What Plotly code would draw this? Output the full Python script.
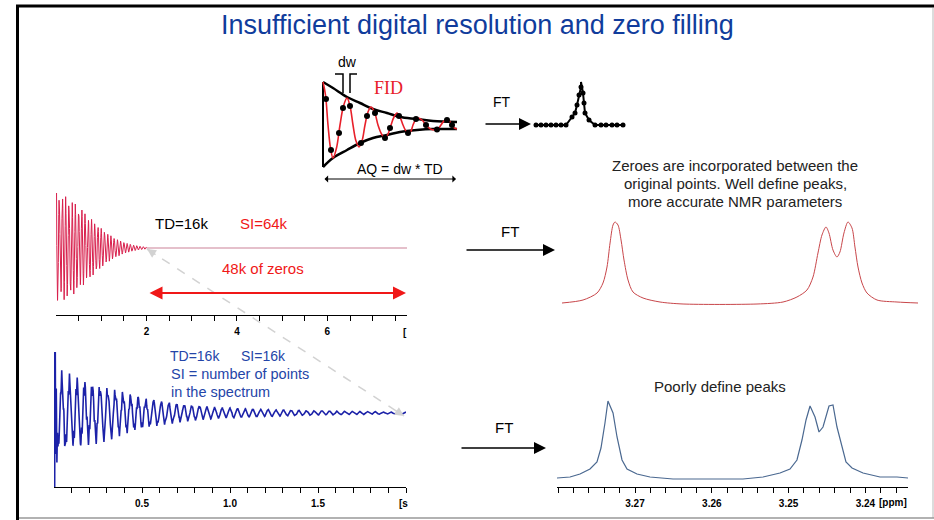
import numpy as np
import plotly.graph_objects as go

W, H = 934, 520

# ---------------- schematic FID (arbitrary time / amplitude units) ----------------
sch_env_t = [0, 10, 24, 37, 50, 64, 77, 94, 110, 134]
sch_env_hi = [43, 37, 28, 22, 16, 12, 8, 6, 4, 3]
sch_env_lo = [-42, -33, -25, -18, -13, -10, -7, -5, -4, -4]

sch_wave_t = [0, 2.5, 5, 7.5, 10, 13.5, 17, 20.5, 24, 27, 30, 33, 36, 39, 42, 45, 48, 51.5, 55,
              58.5, 62, 65, 68, 71, 74, 77, 80, 83, 86, 88, 90, 92.5, 95, 99, 103, 107.5, 112,
              115, 118, 121, 124, 126.5, 129, 131.5, 134]
sch_wave_y = [43, 30, 0, -23, -33, -23, 0, 19, 27, 19, 0, -16, -22, -16, 0, 13, 18, 13, 0,
              -9, -13, -9, 0, 8, 12, 8, 0, -6, -8, -6, 0, 5, 7, 5, 0, -4, -5,
              -4, 0, 4, 5, 4, 0, -3, -4]

# sampled points (every dw) sitting on the oscillation
sch_dot_t = [3, 8, 16, 20, 27, 38, 44, 52, 62, 67, 76, 85, 93, 103, 114, 124, 129]
sch_dot_y = [26, -25, -8, 17, 19, -18, 9, 12, -13, -3, 9, -8, 6, 0, -4.5, 5, 0]

# small transformed spectrum next to the first FT arrow
ft_dot_x = [213, 218, 223, 228, 233, 238, 243, 249, 252, 254, 256, 258, 260, 261, 262, 266,
            272, 278, 283, 289, 294, 300]
ft_dot_y = [0, 0, 0, 0, 0, 0, 0, 8, 12, 20, 30, 38, 32, 22, 12, 5, 0, 0, 0, 0, 0, 0]
ft_tip = (258, 43)

# ---------------- time-domain signals (TD = 16k points over 2 s) ----------------
TD = 16384
t = np.linspace(0.0, 2.0, TD)

# components: frequency [Hz], amplitude, exponential T2 [s], gaussian width [s]
blue_freq = [23.0, 23.0, 90.0, 160.0, 150.0]
blue_amp = [20.0, 14.0, 7.0, 4.0, 250.0]
blue_t2 = [0.66, np.inf, np.inf, 0.5, 0.006]
blue_tg = [np.inf, 0.45, 0.5, np.inf, np.inf]

red_freq = [14.0, 47.0, 300.0]
red_amp = [48.0, 6.0, 110.0]
red_t2 = [np.inf, np.inf, 0.002]
red_tg = [1.02, 0.8, np.inf]


def fid(freq, amp, t2, tg):
    s = np.zeros_like(t)
    for f, a, e, g in zip(freq, amp, t2, tg):
        s += a * np.cos(2 * np.pi * f * t) * np.exp(-t / e) * np.exp(-(t / g) ** 2)
    return s


blue_fid = fid(blue_freq, blue_amp, blue_t2, blue_tg)
red_fid = fid(red_freq, red_amp, red_t2, red_tg)

# zero filling: SI = 64k, the remaining 48k points are zeros
zf_t = [2.0, 7.76]
zf_y = [0.0, 0.0]

# ---------------- spectra (ppm, intensity) ----------------
red_ppm = [3.28011, 3.27749, 3.27574, 3.2750, 3.2745, 3.27412, 3.27375, 3.2735, 3.27313, 3.27275,
           3.27238, 3.27188, 3.27126, 3.27001, 3.26789, 3.26502, 3.2558, 3.25256, 3.25082, 3.24957,
           3.24882, 3.2482, 3.2477, 3.2472, 3.24683, 3.24633, 3.24583, 3.24546, 3.24496, 3.24446,
           3.24396, 3.24359, 3.24321, 3.24271, 3.24209, 3.24084, 3.23835, 3.23573]
red_int = [1, 4, 11, 21, 37, 61, 79, 82, 79, 64,
           44, 24, 12, 6, 2, 0, 0, 2, 7, 14,
           27, 51, 69, 77, 71, 54, 47, 52, 71, 82,
           76, 57, 37, 21, 11, 4, 2, 1]

blue_ppm = [3.28016, 3.27846, 3.27716, 3.27586, 3.27495, 3.27443, 3.27391, 3.27352, 3.27286, 3.27234,
            3.27169, 3.27104, 3.26974, 3.26805, 3.26505, 3.25594, 3.25333, 3.25112, 3.24982, 3.24891,
            3.24826, 3.24773, 3.24721, 3.24656, 3.24604, 3.24552, 3.24474, 3.24422, 3.24370, 3.24305,
            3.24253, 3.24174, 3.24031, 3.23810, 3.23589, 3.23445]
blue_int = [1, 2, 5, 10, 17, 31, 56, 78, 66, 42,
            19, 10, 5, 2, 0, 0, 2, 6, 10, 19,
            39, 59, 73, 62, 47, 52, 73, 74, 52, 32,
            17, 11, 6, 2, 2, 1]

red_fid_ticks = [0.5 * k for k in range(1, 16)]
red_fid_labels = ["2", "4", "6"]
blue_fid_ticks = [round(0.1 * k, 1) for k in range(1, 21)]
blue_fid_labels = ["0.5", "1.0", "1.5"]
spec_ticks = [round(3.280 - 0.002 * k, 3) for k in range(0, 23)]
spec_labels = ["3.27", "3.26", "3.25", "3.24"]

# ---------------- helpers ----------------
FONT = "Liberation Sans, Arial, sans-serif"


def PX(x):
    return x / W


def PY(y):
    return 1 - y / H


def dom_x(a, b):
    return [PX(a), PX(b)]


def dom_y(top, bottom):
    return [PY(bottom), PY(top)]


def fmt(v, labels):
    for lab in labels:
        if abs(float(lab) - v) < 1e-9:
            return "<b>%s</b>" % lab
    return ""


fig = go.Figure()

# schematic
fig.add_trace(go.Scatter(x=sch_env_t, y=sch_env_hi, mode="lines", line=dict(color="black", width=2.5, shape="spline"),
                         xaxis="x", yaxis="y"))
fig.add_trace(go.Scatter(x=sch_env_t, y=sch_env_lo, mode="lines", line=dict(color="black", width=2.5, shape="spline"),
                         xaxis="x", yaxis="y"))
fig.add_trace(go.Scatter(x=[sch_env_t[0], sch_env_t[0]], y=[sch_env_lo[0], sch_env_hi[0]], mode="lines",
                         line=dict(color="black", width=2), xaxis="x", yaxis="y"))
fig.add_trace(go.Scatter(x=sch_wave_t, y=sch_wave_y, mode="lines",
                         line=dict(color="#e8202a", width=1.6, shape="spline", smoothing=1.0), xaxis="x", yaxis="y"))
fig.add_trace(go.Scatter(x=sch_dot_t, y=sch_dot_y, mode="markers", marker=dict(color="black", size=6),
                         xaxis="x", yaxis="y"))
# dw bracket
dw_l, dw_r = sch_dot_t[3], sch_dot_t[4]
fig.add_trace(go.Scatter(x=[dw_l - 8, dw_l, dw_l, None, dw_r, dw_r, dw_r + 7],
                         y=[51, 51, 32, None, 32, 51, 51], mode="lines",
                         line=dict(color="black", width=1.5), xaxis="x", yaxis="y"))
# small spectrum after FT
line_pts = sorted(list(zip(ft_dot_x, ft_dot_y)) + [ft_tip])
fig.add_trace(go.Scatter(x=[p[0] for p in line_pts], y=[p[1] for p in line_pts], mode="lines",
                         line=dict(color="black", width=2), xaxis="x", yaxis="y"))
fig.add_trace(go.Scatter(x=ft_dot_x, y=ft_dot_y, mode="markers", marker=dict(color="black", size=5),
                         xaxis="x", yaxis="y"))

# red FID with zero filling
fig.add_trace(go.Scatter(x=zf_t, y=zf_y, mode="lines", line=dict(color="#cc8298", width=1.2),
                         xaxis="x2", yaxis="y2"))
fig.add_trace(go.Scatter(x=t, y=red_fid, mode="lines", line=dict(color="#d81f4c", width=1),
                         xaxis="x2", yaxis="y2"))

# blue FID
fig.add_trace(go.Scatter(x=t, y=blue_fid, mode="lines", line=dict(color="#1c22a8", width=1.6),
                         xaxis="x3", yaxis="y3"))

# spectra
fig.add_trace(go.Scatter(x=red_ppm, y=red_int, mode="lines",
                         line=dict(color="#c8464a", width=1, shape="spline", smoothing=0.8),
                         xaxis="x4", yaxis="y4"))
fig.add_trace(go.Scatter(x=blue_ppm, y=blue_int, mode="lines", line=dict(color="#4a6890", width=1.2),
                         xaxis="x5", yaxis="y5"))

hidden = dict(visible=False, showgrid=False, zeroline=False)
tickfont = dict(family=FONT, size=10, color="black")

layout = dict(
    width=W, height=H, margin=dict(l=0, r=0, t=0, b=0),
    paper_bgcolor="white", plot_bgcolor="rgba(0,0,0,0)", showlegend=False,
    xaxis=dict(domain=dom_x(318, 630), range=[-5, 307], **hidden),
    yaxis=dict(domain=dom_y(50, 190), range=[-65, 75], **hidden),
    xaxis2=dict(domain=dom_x(56, 407), range=[0, 7.76], anchor="y2", showgrid=False, zeroline=False,
                showline=True, linecolor="black", linewidth=1, ticks="outside", ticklen=5, tickwidth=1,
                tickcolor="black", tickvals=red_fid_ticks, ticktext=[fmt(v, red_fid_labels) for v in red_fid_ticks],
                tickfont=tickfont, ticklabelstandoff=2),
    yaxis2=dict(domain=dom_y(193, 315), range=[-67, 55], anchor="x2", **hidden),
    xaxis3=dict(domain=dom_x(54, 406), range=[0, 2.0], anchor="y3", showgrid=False, zeroline=False,
                showline=True, linecolor="black", linewidth=1, ticks="outside", ticklen=5, tickwidth=1,
                tickcolor="black", tickvals=blue_fid_ticks, ticktext=[fmt(v, blue_fid_labels) for v in blue_fid_ticks],
                tickfont=tickfont, ticklabelstandoff=2),
    yaxis3=dict(domain=dom_y(352, 487), range=[-74, 61], anchor="x3", **hidden),
    xaxis4=dict(domain=dom_x(562, 918), range=[3.28011, 3.23573], anchor="y4", **hidden),
    yaxis4=dict(domain=dom_y(210, 310), range=[-6, 94], anchor="x4", **hidden),
    xaxis5=dict(domain=dom_x(557, 908), range=[3.280156, 3.234453], anchor="y5", showgrid=False, zeroline=False,
                showline=True, linecolor="black", linewidth=1, ticks="outside", ticklen=5, tickwidth=1,
                tickcolor="black", tickvals=spec_ticks, ticktext=[fmt(v, spec_labels) for v in spec_ticks],
                tickfont=tickfont, ticklabelstandoff=2),
    yaxis5=dict(domain=dom_y(395, 487), range=[-8, 84], anchor="x5", **hidden),
)
fig.update_layout(**layout)

ann = []


def text(x, y, s, size=15, color="black", anchor="center", family=FONT):
    ann.append(dict(x=PX(x), y=PY(y), xref="paper", yref="paper", text=s, showarrow=False,
                    xanchor=anchor, yanchor="middle", font=dict(family=family, size=size, color=color)))


def arrow(x0, y0, x1, y1, color="black", width=1.5, size=1.0, head=2, side="end"):
    ann.append(dict(x=PX(x1), y=PY(y1), xref="paper", yref="paper", ax=x0 - x1, ay=y0 - y1,
                    axref="pixel", ayref="pixel", text="", showarrow=True, arrowhead=head, arrowsize=size,
                    arrowwidth=width, arrowcolor=color, arrowside=side, standoff=0, startstandoff=0))


BLUE_TXT = "#2445a8"
text(477, 25, "Insufficient digital resolution and zero filling", size=27, color="#103c9c")
text(347, 62, "dw", size=14)
text(388, 88, "FID", size=18, color="#e8202a", family="Liberation Serif, Times New Roman, serif")
text(400, 169, "AQ = dw * TD", size=14)
arrow(323, 179, 456, 179, width=1, size=1.2, head=1, side="end+start")
text(502, 102, "FT", size=14)
arrow(484, 124, 531, 124, width=1.5, size=1.6)

text(735, 165, "Zeroes are incorporated between the", size=15, color="#222222")
text(735, 183, "original points. Well define peaks,", size=15, color="#222222")
text(735, 202, "more accurate NMR parameters", size=15, color="#222222")

text(181, 223, "TD=16k", size=15)
text(264, 223, "SI=64k", size=15, color="#f01818")
text(263, 268, "48k of zeros", size=15, color="#f01818")
arrow(148, 293, 406, 293, color="#f01818", width=2, size=1.3, side="end+start")

text(510, 231, "FT", size=15)
arrow(465, 250, 555, 250, width=1.5, size=1.6)
text(504, 427, "FT", size=15)
arrow(460, 448, 546, 448, width=1.5, size=1.6)

text(168, 356, "TD=16k", size=14, color=BLUE_TXT, anchor="left")
text(239, 356, "SI=16k", size=14, color=BLUE_TXT, anchor="left")
text(169, 374, "SI = number of points", size=14.5, color=BLUE_TXT, anchor="left")
text(169, 392, "in the spectrum", size=14.5, color=BLUE_TXT, anchor="left")

text(720, 386, "Poorly define peaks", size=15, color="#222222")

text(405, 332, "<b>[</b>", size=10)
text(403, 503, "<b>[s</b>", size=10)
text(877, 502, "<b>[ppm]</b>", size=10, anchor="left")

# grey dashed link between the two FIDs
gx0, gy0, gx1, gy1 = 147, 249, 404, 416
ux, uy = (gx1 - gx0), (gy1 - gy0)
n = (ux ** 2 + uy ** 2) ** 0.5
ux, uy = ux / n, uy / n
arrow(gx0 + 12 * ux, gy0 + 12 * uy, gx0, gy0, color="#d2d2d2", width=1.5, size=1.2)
arrow(gx1 - 12 * ux, gy1 - 12 * uy, gx1, gy1, color="#d2d2d2", width=1.5, size=1.2)

fig.update_layout(annotations=ann)

shapes = [
    dict(type="line", xref="paper", yref="paper", x0=PX(gx0), y0=PY(gy0), x1=PX(gx1), y1=PY(gy1),
         line=dict(color="#d2d2d2", width=1.5, dash="dash")),
    dict(type="line", xref="paper", yref="paper", x0=PX(17.5), y0=PY(5), x1=PX(17.5), y1=PY(520),
         line=dict(color="black", width=3)),
    dict(type="line", xref="paper", yref="paper", x0=PX(16), y0=PY(6), x1=PX(934), y1=PY(6),
         line=dict(color="black", width=3)),
    dict(type="line", xref="paper", yref="paper", x0=PX(933), y0=PY(8), x1=PX(933), y1=PY(518),
         line=dict(color="#d0d0d0", width=1.5)),
    dict(type="line", xref="paper", yref="paper", x0=PX(19), y0=PY(518), x1=PX(934), y1=PY(518),
         line=dict(color="#999999", width=1.5)),
]
fig.update_layout(shapes=shapes)

fig.write_html("out.html")
